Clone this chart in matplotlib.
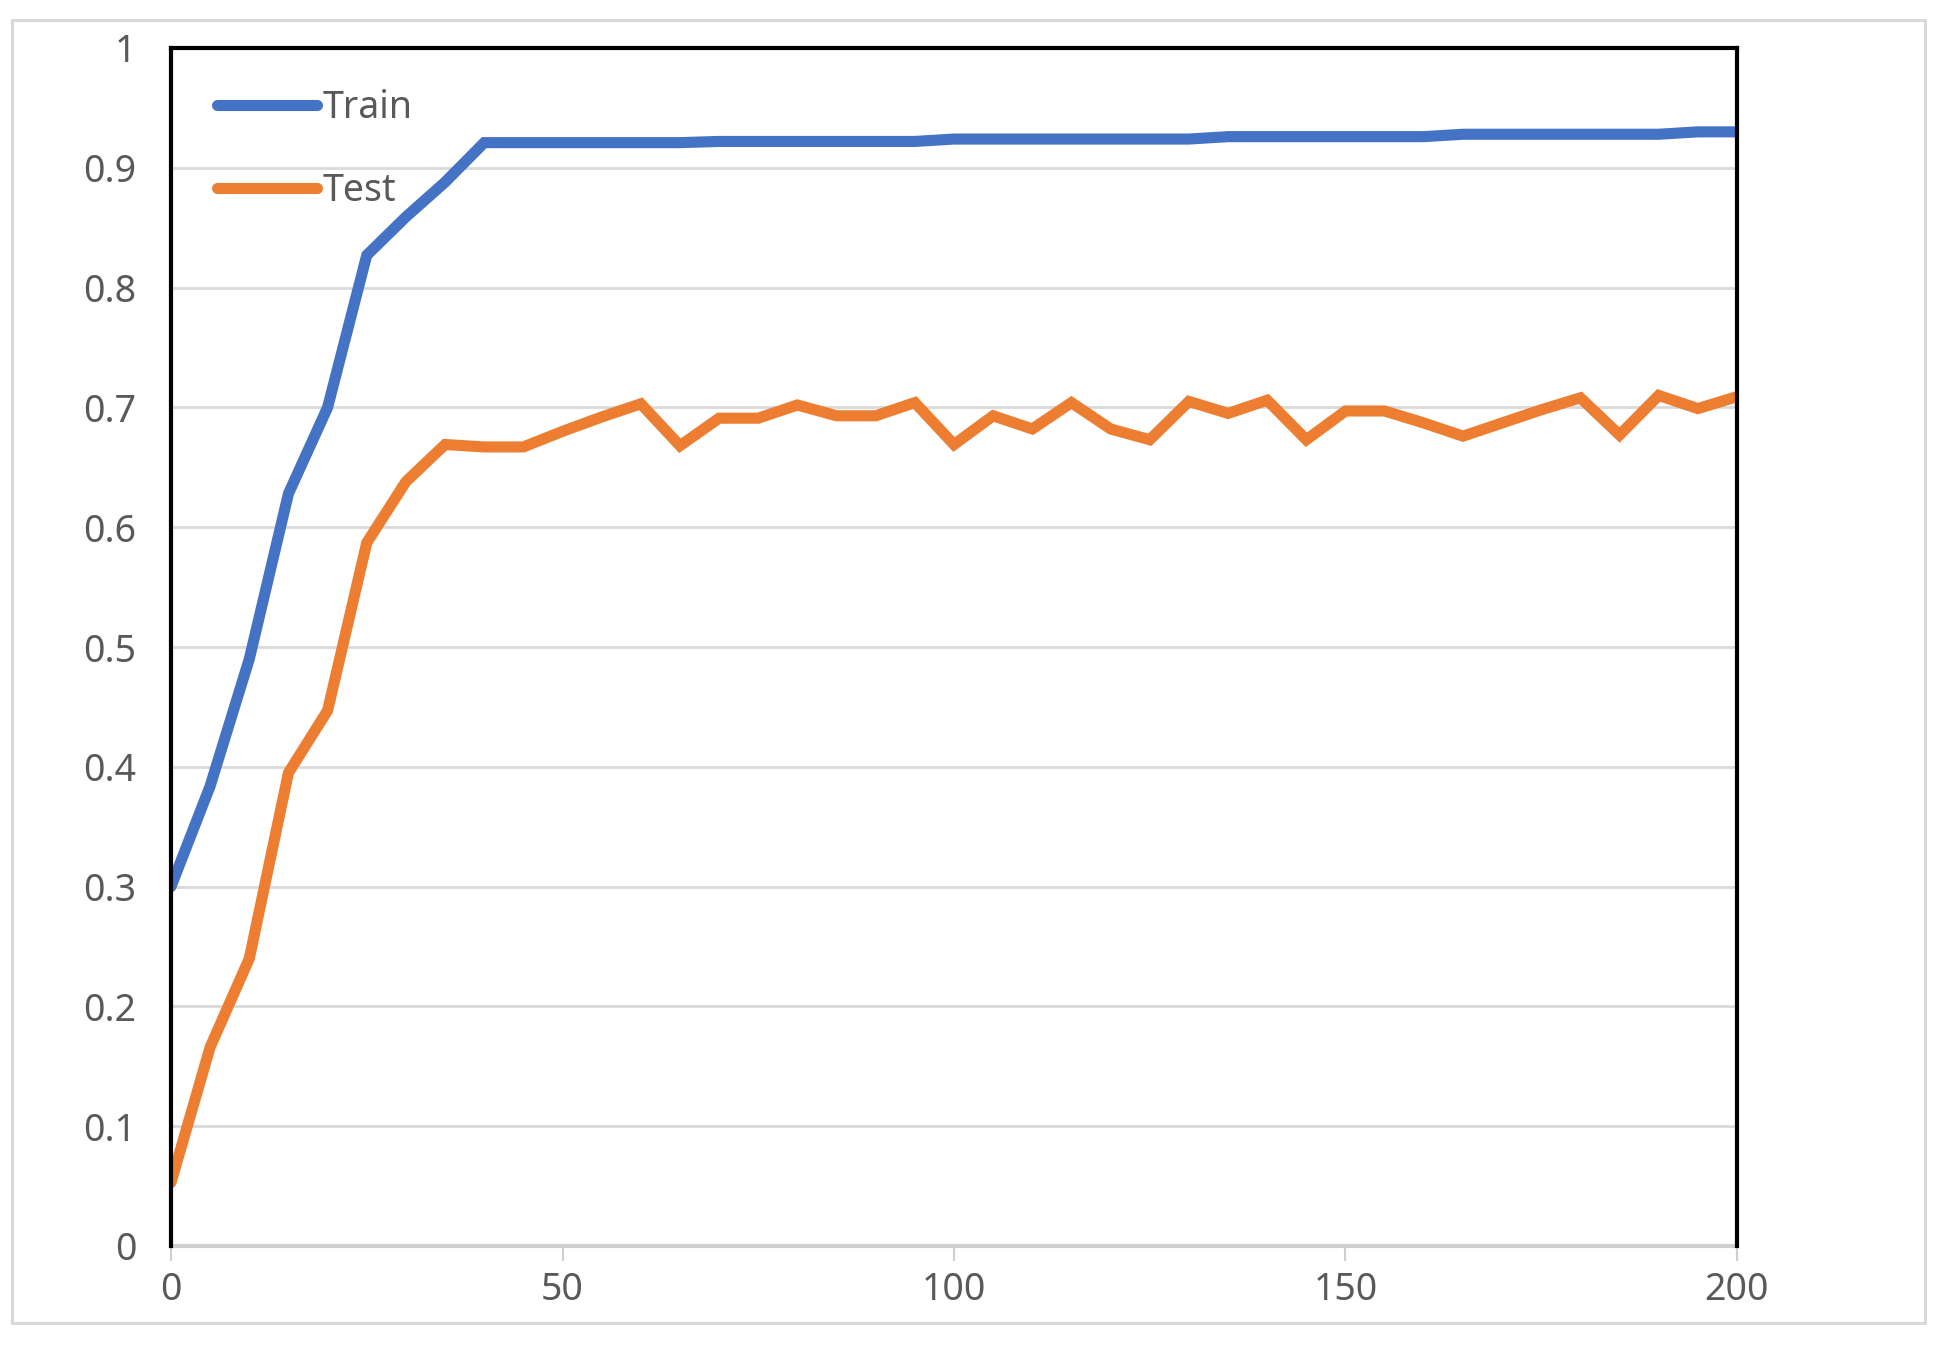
import matplotlib
matplotlib.use("Agg")
import matplotlib.pyplot as plt
from matplotlib.patches import Rectangle

plt.rcParams['font.family'] = ['Noto Sans', 'DejaVu Sans']

epochs = list(range(0, 201, 5))
train = [0.30, 0.384, 0.49, 0.628, 0.70, 0.827, 0.859, 0.888, 0.921,
         0.921, 0.921, 0.921, 0.921, 0.921, 0.922, 0.922, 0.922, 0.922,
         0.922, 0.922, 0.924, 0.924, 0.924, 0.924, 0.924, 0.924, 0.924,
         0.926, 0.926, 0.926, 0.926, 0.926, 0.926, 0.928, 0.928, 0.928,
         0.928, 0.928, 0.928, 0.930, 0.930]
test = [0.053, 0.166, 0.24, 0.395, 0.447, 0.587, 0.638, 0.669, 0.667,
        0.667, 0.680, 0.692, 0.703, 0.668, 0.691, 0.691, 0.702, 0.693,
        0.693, 0.704, 0.669, 0.693, 0.682, 0.704, 0.682, 0.673, 0.705,
        0.695, 0.706, 0.673, 0.697, 0.697, 0.687, 0.676, 0.687, 0.698,
        0.708, 0.677, 0.710, 0.699, 0.709]
series_names = ["Train", "Test"]
colors = ["#4472C4", "#ED7D31"]
xticks = [0, 50, 100, 150, 200]
yticks = [0, 0.1, 0.2, 0.3, 0.4, 0.5, 0.6, 0.7, 0.8, 0.9, 1]
ytick_labels = ["0", "0.1", "0.2", "0.3", "0.4", "0.5", "0.6", "0.7", "0.8", "0.9", "1"]

W, H = 1948, 1348
fig = plt.figure(figsize=(W / 100, H / 100), dpi=100)
fig.patch.set_facecolor("white")
fig.patches.append(Rectangle((12 / W, 1 - 1323 / H), (1925 - 12) / W, (1323 - 20) / H,
                             transform=fig.transFigure, fill=False,
                             edgecolor="#d9d9d9", linewidth=2.2))

ax = fig.add_axes([171 / W, 1 - 1246 / H, (1737 - 171) / W, (1246 - 48) / H])
ax.set_xlim(0, 200)
ax.set_ylim(0, 1)

for y in yticks[1:]:
    ax.axhline(y, color="#d9d9d9", linewidth=2.0, zorder=1)

for vals, name, c in zip([train, test], series_names, colors):
    ax.plot(epochs, vals, color=c, linewidth=8, label=name,
            solid_capstyle="round", solid_joinstyle="miter", zorder=3)

for side in ["left", "right", "top"]:
    ax.spines[side].set_color("black")
    ax.spines[side].set_linewidth(3)
    ax.spines[side].set_zorder(4)
ax.spines["bottom"].set_color("#d0d0d0")
ax.spines["bottom"].set_linewidth(3)

ax.set_xticks(xticks)
ax.set_xticklabels([str(v) for v in xticks])
ax.set_yticks(yticks)
ax.set_yticklabels(ytick_labels)
ax.tick_params(axis="y", length=0, pad=25, labelsize=27, labelcolor="#595959")
ax.tick_params(axis="x", length=11, width=1.5, color="#d0d0d0", direction="out",
               pad=7, labelsize=27, labelcolor="#595959")

leg = ax.legend(loc="upper left", bbox_to_anchor=(0.02, 0.978), frameon=False,
                fontsize=27, handlelength=2.65, handletextpad=0.15,
                labelspacing=1.2, borderaxespad=0)
for t in leg.get_texts():
    t.set_color("#595959")

fig.savefig("out.png", dpi=100, facecolor="white")
